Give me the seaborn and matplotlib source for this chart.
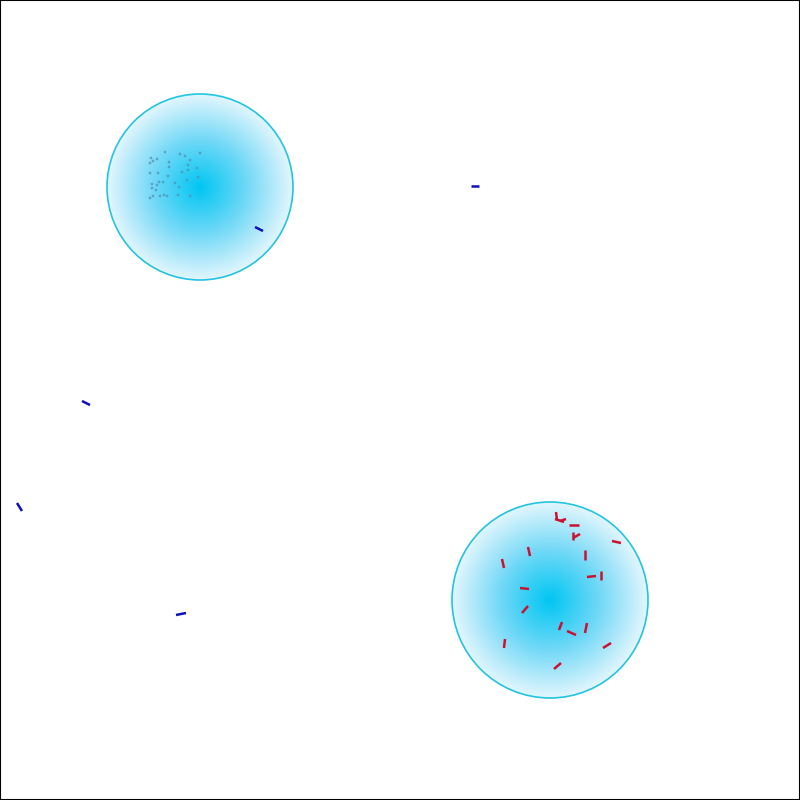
import numpy as np
import pandas as pd
import matplotlib
matplotlib.use('Agg')
import matplotlib.pyplot as plt
from matplotlib.colors import LinearSegmentedColormap
from matplotlib.patches import Circle
import seaborn as sns

sns.set_style('white')

# Zones (pixel coordinates, y downward)
zone_x = [200, 550]
zone_y = [187, 600]
zone_r = [93, 98]

# Blue segments: x0, y0, x1, y1
blue_x0 = [471, 255, 82, 17, 176]
blue_y0 = [186, 227, 401, 503, 615]
blue_x1 = [479, 263, 90, 22, 186]
blue_y1 = [186, 231, 405, 511, 613]

# Red segments
red_x0 = [556, 555, 560, 569, 573, 573, 612, 528, 502, 585, 587, 601, 520, 522, 562, 567, 587, 603, 505, 554]
red_y0 = [512, 519, 521, 525, 532, 538, 541, 547, 559, 550, 577, 571, 588, 613, 622, 631, 623, 648, 639, 669]
red_x1 = [557, 564, 566, 579, 573, 580, 621, 530, 504, 585, 596, 601, 529, 528, 559, 576, 585, 611, 504, 561]
red_y1 = [520, 522, 519, 525, 540, 534, 543, 556, 568, 560, 576, 580, 589, 606, 630, 635, 633, 643, 648, 663]

# Dots inside the upper zone
dot_x = [165, 151, 153, 157, 150, 169, 180, 185, 190, 200, 188, 197, 169, 150, 158, 182, 168, 188,
         198, 159, 163, 152, 157, 175, 179, 187, 152, 156, 153, 160, 164, 167, 178, 190, 150]
dot_y = [152, 158, 161, 159, 163, 162, 154, 156, 160, 153, 165, 168, 167, 173, 173, 172, 176, 170,
         177, 182, 182, 184, 185, 183, 187, 180, 188, 190, 196, 196, 195, 196, 195, 196, 198]

fig = plt.figure(figsize=(8, 8), dpi=100)
ax = fig.add_axes([0, 0, 1, 1])
ax.set_xlim(0, 800)
ax.set_ylim(800, 0)
ax.set_xticks([])
ax.set_yticks([])
for s in ax.spines.values():
    s.set_color('black')
    s.set_linewidth(1.5)

cmap = LinearSegmentedColormap.from_list('zone', ['#00c6f2', '#6fd8f7', '#e2f6fd'])
g = np.linspace(-1, 1, 300)
gx, gy = np.meshgrid(g, g)
dist = np.sqrt(gx ** 2 + gy ** 2)
for cx, cy, r in zip(zone_x, zone_y, zone_r):
    circ = Circle((cx, cy), r, facecolor='none', edgecolor='#22c4e2', linewidth=1.2, zorder=2)
    ax.add_patch(circ)
    im = ax.imshow(dist, cmap=cmap, vmin=0, vmax=1, extent=[cx - r, cx + r, cy + r, cy - r],
                   interpolation='bilinear', zorder=1)
    im.set_clip_path(circ)

dots = pd.DataFrame({'x': dot_x, 'y': dot_y})
sns.scatterplot(data=dots, x='x', y='y', ax=ax, s=4, color='#4f8fb0', alpha=0.7,
                edgecolor='none', zorder=3)

for x0, y0, x1, y1 in zip(blue_x0, blue_y0, blue_x1, blue_y1):
    ax.plot([x0, x1], [y0, y1], color='#1010b8', linewidth=1.8, solid_capstyle='butt', zorder=4)
for x0, y0, x1, y1 in zip(red_x0, red_y0, red_x1, red_y1):
    ax.plot([x0, x1], [y0, y1], color='#cc1030', linewidth=1.8, solid_capstyle='butt', zorder=4)

ax.set_xlabel('')
ax.set_ylabel('')
ax.set_xlim(0, 800)
ax.set_ylim(800, 0)
fig.savefig('out.png', dpi=100)
